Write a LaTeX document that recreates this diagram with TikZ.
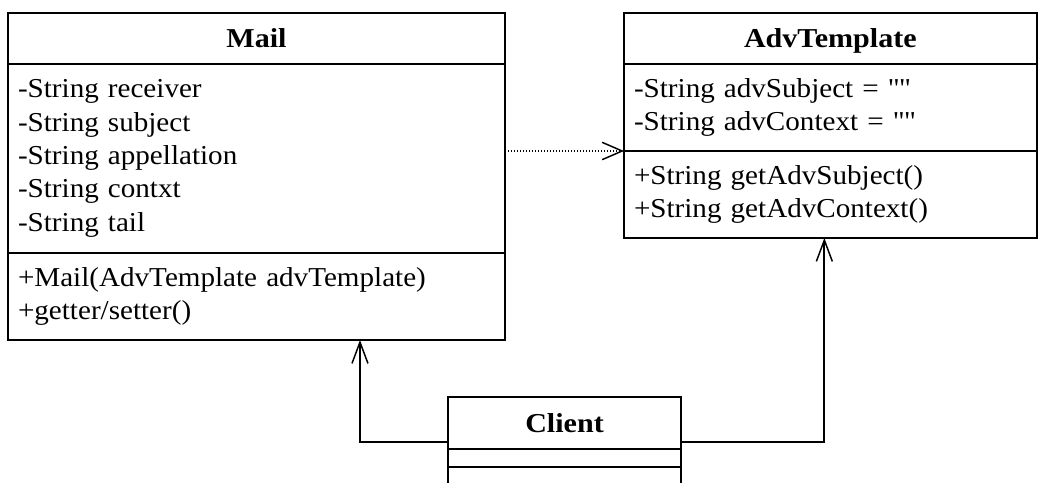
\documentclass[tikz,border=0pt]{standalone}
\usepackage{fontspec}
\setmainfont{Liberation Serif}[FakeStretch=1.065,BoldFeatures={FakeStretch=1.1}]
\usepackage{tikz}
\usetikzlibrary{arrows.meta,positioning}
\tikzset{% boxes of the class diagram
	classname/.style={draw,line width=1.5pt,outer sep=0pt,inner sep=0pt,
		font=\fontsize{20.5pt}{25pt}\selectfont\bfseries,align=center,minimum height=38.25pt,
		text height=14pt,text depth=0pt},
	members/.style={draw,line width=1.5pt,outer sep=0pt,inner xsep=7.5pt,inner ysep=0pt,
		font=\fontsize{20.5pt}{25pt}\selectfont,align=left},
	dep/.style={line width=1pt,dash pattern=on 1pt off 1.25pt,
		-{Straight Barb[length=15pt,width=13pt,line width=1.1pt]}},
	assoc/.style={line width=1.5pt,
		-{Straight Barb[length=16pt,width=12pt,line width=1.1pt]}}
}
\begin{document}
\begin{tikzpicture}[x=0.75pt,y=-0.75pt]
\useasboundingbox (0,0) rectangle (1038,482);
% Mail
\node[classname,minimum width=372.75pt,anchor=north west] (mailname) at (8,13) {Mail};
\node[members,text width=357.75pt,minimum height=141.75pt,below=0pt of mailname] (mailattr)
	{-String receiver\\-String subject\\-String appellation\\-String contxt\\-String tail};
\node[members,text width=357.75pt,minimum height=65.25pt,below=0pt of mailattr] (mailops)
	{+Mail(AdvTemplate advTemplate)\\+getter/setter()};
% AdvTemplate
\node[classname,minimum width=309.5pt,anchor=north west] (advname) at (624,13) {AdvTemplate};
\node[members,text width=294.5pt,minimum height=65.25pt,below=0pt of advname] (advattr)
	{-String advSubject = \textquotedbl\textquotedbl\\-String advContext = \textquotedbl\textquotedbl};
\node[members,text width=294.5pt,minimum height=65.25pt,below=0pt of advattr] (advops)
	{+String getAdvSubject()\\+String getAdvContext()};
% Client
\node[classname,minimum width=174.75pt,minimum height=39pt,anchor=north west] (clientname) at (448,397) {Client};
\node[members,minimum width=174.75pt,minimum height=13.5pt,inner sep=0pt,below=0pt of clientname] (clientattr) {};
\node[members,minimum width=174.75pt,minimum height=30pt,inner sep=0pt,below=0pt of clientattr] (clientops) {};
% relations
\draw[dep] (mailattr.east |- advattr.south) -- (advattr.south west);
\draw[assoc] ([yshift=5pt]clientname.south west) -| ([xshift=77.6pt]mailops.south);
\draw[assoc] ([yshift=5pt]clientname.south east) -| ([xshift=-4.5pt]advops.south);
\end{tikzpicture}
\end{document}
